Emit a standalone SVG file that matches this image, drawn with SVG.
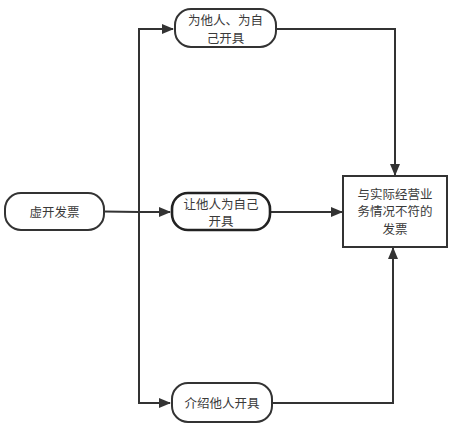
<svg xmlns="http://www.w3.org/2000/svg" width="454" height="432" viewBox="0 0 454 432">
<defs>
<marker id="ah" markerWidth="12" markerHeight="10" refX="11" refY="5" orient="auto" markerUnits="userSpaceOnUse">
<path d="M0,0 L12,5 L0,10 Z" fill="#333"/>
</marker>
<style>
.n{fill:#fff;stroke:#333;stroke-width:2}
.nb{fill:#fff;stroke:#222;stroke-width:2.6}
.t{font-family:"Noto Sans CJK SC","Noto Sans",sans-serif;font-size:12.5px;fill:#3a3a3a;text-anchor:middle;dominant-baseline:central}
.c{fill:none;stroke:#333;stroke-width:2}
</style>
</defs>
<rect width="454" height="432" fill="#fff"/>
<g id="connectors">
<path class="c" d="M104,211.5 L139,212 L170,212" marker-end="url(#ah)"/>
<path class="c" d="M139,403 L139,29 L173,29" marker-end="url(#ah)"/>
<path class="c" d="M139,212 L139,403 L170,403" marker-end="url(#ah)"/>
<path class="c" d="M276,29 L395,29 L395,175" marker-end="url(#ah)"/>
<path class="c" d="M270,212 L342,212" marker-end="url(#ah)"/>
<path class="c" d="M272,403 L393,403 L393,248" marker-end="url(#ah)"/>
</g>
<g id="n1">
<rect class="n" x="5" y="193" width="99" height="37" rx="16"/>
<text class="t" x="54.5" y="211.5">虚开发票</text>
</g>
<g id="n2">
<rect class="n" x="175" y="9" width="101" height="38" rx="16"/>
<text class="t" x="225.5" y="19.5">为他人、为自</text>
<text class="t" x="225.5" y="37">己开具</text>
</g>
<g id="n3">
<rect class="nb" x="172" y="193" width="98" height="37" rx="16"/>
<text class="t" x="221" y="203">让他人为自己</text>
<text class="t" x="221" y="220.5">开具</text>
</g>
<g id="n4">
<rect class="n" x="343" y="176" width="104" height="71"/>
<text class="t" x="395" y="193">与实际经营业</text>
<text class="t" x="395" y="210.5">务情况不符的</text>
<text class="t" x="395" y="228">发票</text>
</g>
<g id="n5">
<rect class="n" x="172" y="383" width="100" height="39" rx="16"/>
<text class="t" x="222" y="402.5">介绍他人开具</text>
</g>
</svg>
